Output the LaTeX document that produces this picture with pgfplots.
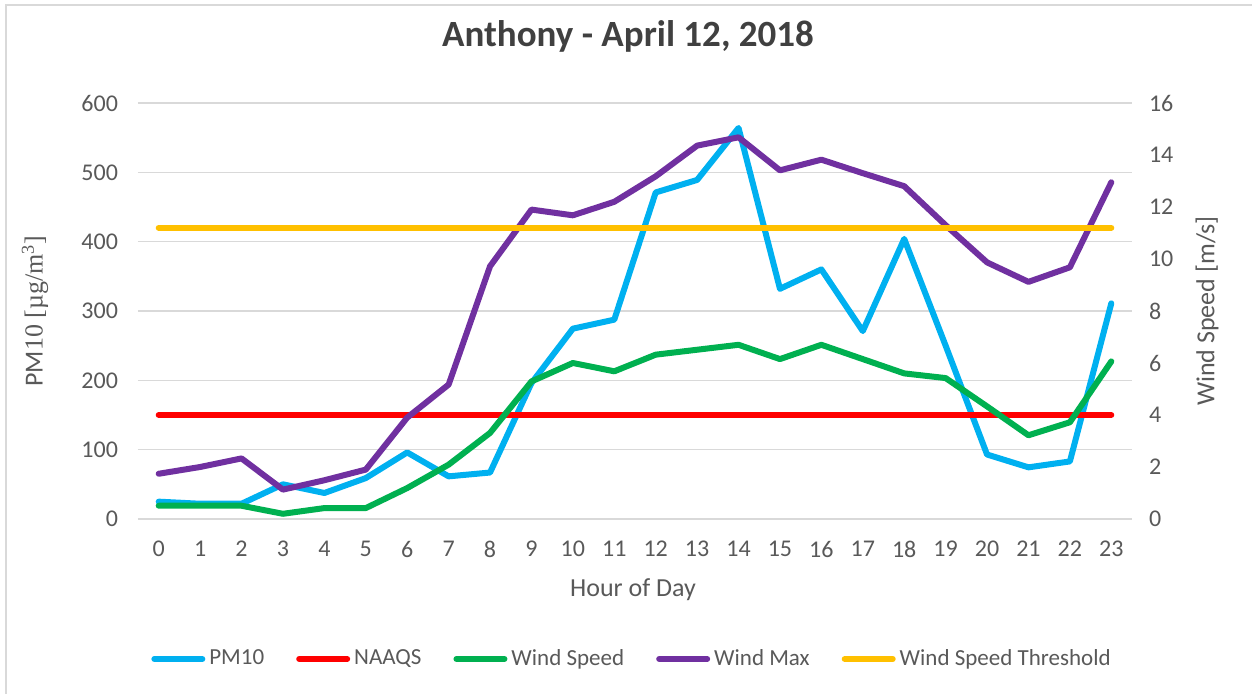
\documentclass[border=0pt]{standalone}
\usepackage{pgfplots}
\pgfplotsset{compat=1.18}
\usepackage{fontspec}
\setmainfont{Carlito}
\newfontfamily\seriffont{Liberation Serif}
\definecolor{txt}{HTML}{595959}
\definecolor{ttl}{HTML}{404040}
\definecolor{gridc}{HTML}{D9D9D9}
\definecolor{cPM}{HTML}{00B0F0}
\definecolor{cNA}{HTML}{FF0000}
\definecolor{cWS}{HTML}{00B050}
\definecolor{cWM}{HTML}{7030A0}
\definecolor{cTH}{HTML}{FFC000}

\pgfplotstableread{
h pm ws wm
0 25 0.51 1.74
1 22 0.51 2.00
2 22 0.51 2.33
3 50 0.20 1.13
4 37.5 0.42 1.49
5 59 0.42 1.90
6 96 1.19 3.90
7 61.5 2.09 5.17
8 67 3.31 9.72
9 196 5.29 11.90
10 274.5 6.00 11.68
11 287.5 5.68 12.20
12 471 6.32 13.18
13 489 6.51 14.36
14 564 6.70 14.68
15 332 6.15 13.41
16 360 6.70 13.82
17 271 6.15 13.30
18 404 5.60 12.80
19 250 5.42 11.30
20 93 4.33 9.87
21 74.5 3.22 9.12
22 83 3.72 9.68
23 311 6.06 12.95
}\datatable

\pgfplotsset{
  common/.style={
    scale only axis, width=497pt, height=208pt,
    at={(69pt,87.5pt)}, anchor=south west,
    xmin=-0.5, xmax=23.5,
    axis line style={draw=none},
    major tick length=0pt,
    tick style={draw=none},
    /pgf/number format/assume math mode=true,
    ticklabel style={font=\fontsize{12}{14}\selectfont, text=txt},
  },
  ser/.style={line width=3pt, line join=round, line cap=round, #1},
}

\begin{document}
\begin{tikzpicture}
\useasboundingbox (0,0) rectangle (626pt,347pt);
\draw[gridc, line width=1pt] (2.75pt,0) -- (2.75pt,344.25pt) -- (626pt,344.25pt);

\begin{axis}[common,
  ymin=0, ymax=600, ytick={0,100,...,600},
  xtick={0,...,23},
  ymajorgrids, grid style={gridc, line width=0.8pt},
  yticklabel style={xshift=-6.5pt},
  xticklabel style={yshift=-7.6pt},
  title={Anthony - April 12, 2018},
  title style={font=\bfseries\fontsize{18.5}{22}\selectfont, text=ttl, at={(0.5,1.132)}, anchor=center, xshift=-3.5pt},
  xlabel={Hour of Day},
  xlabel style={font=\fontsize{13}{15}\selectfont, text=txt, at={(0.498,-0.1707)}, anchor=center},
  ylabel={PM{\seriffont 10 [µg/m\textsuperscript{3}]}},
  ylabel style={font=\fontsize{13}{15}\selectfont, text=txt, at={(-0.1036,0.5)}, anchor=center, rotate=0},
]
\addplot[ser=cPM] table[x=h,y=pm] {\datatable};
\addplot[ser=cNA] coordinates {(0,150) (23,150)};
\end{axis}

\begin{axis}[common,
  ymin=0, ymax=16, ytick={0,2,...,16},
  axis y line*=right, axis x line=none,
  xtick=\empty,
  yticklabel style={xshift=5pt},
  ylabel={Wind Speed [m/s]},
  ylabel style={font=\fontsize{13}{15}\selectfont, text=txt, at={(1.0755,0.5)}, anchor=center},
  legend columns=5,
  legend cell align=left,
  legend style={draw=none, fill=none, at={(0.497,-0.3365)}, anchor=center,
    font=\fontsize{11.5}{13}\selectfont, text=txt,
    /tikz/every odd column/.append style={column sep=1pt},
    /tikz/every even column/.append style={column sep=15pt},
    nodes={inner sep=1pt}},
  legend image code/.code={\draw[#1, line width=3pt, line cap=round] (0pt,0pt) -- (24pt,0pt);},
]
\addlegendimage{ser=cPM}\addlegendentry{PM10}
\addlegendimage{ser=cNA}\addlegendentry{NAAQS}
\addplot[ser=cWS] table[x=h,y=ws] {\datatable};
\addlegendentry{Wind Speed}
\addplot[ser=cWM] table[x=h,y=wm] {\datatable};
\addlegendentry{Wind Max}
\addplot[ser=cTH] coordinates {(0,11.2) (23,11.2)};
\addlegendentry{Wind Speed Threshold}
\end{axis}
\end{tikzpicture}
\end{document}
